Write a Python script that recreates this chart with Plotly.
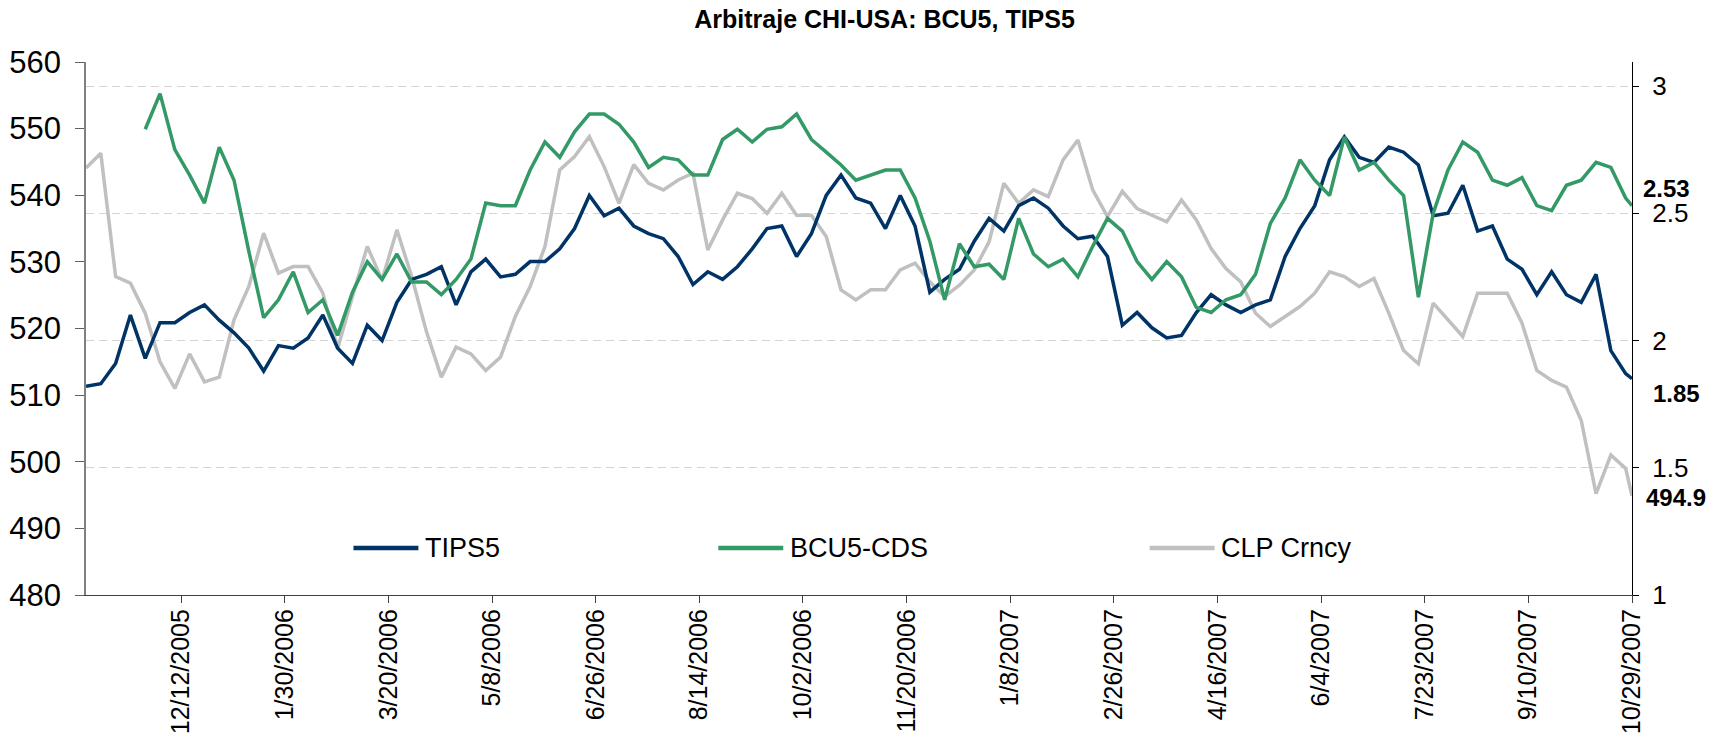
import plotly.graph_objects as go

# weekly readings (Fridays) plus the last day
dates = [
    "2005-10-28", "2005-11-04", "2005-11-11", "2005-11-18", "2005-11-25", "2005-12-02",
    "2005-12-09", "2005-12-16", "2005-12-23", "2005-12-30", "2006-01-06", "2006-01-13",
    "2006-01-20", "2006-01-27", "2006-02-03", "2006-02-10", "2006-02-17", "2006-02-24",
    "2006-03-03", "2006-03-10", "2006-03-17", "2006-03-24", "2006-03-31", "2006-04-07",
    "2006-04-14", "2006-04-21", "2006-04-28", "2006-05-05", "2006-05-12", "2006-05-19",
    "2006-05-26", "2006-06-02", "2006-06-09", "2006-06-16", "2006-06-23", "2006-06-30",
    "2006-07-07", "2006-07-14", "2006-07-21", "2006-07-28", "2006-08-04", "2006-08-11",
    "2006-08-18", "2006-08-25", "2006-09-01", "2006-09-08", "2006-09-15", "2006-09-22",
    "2006-09-29", "2006-10-06", "2006-10-13", "2006-10-20", "2006-10-27", "2006-11-03",
    "2006-11-10", "2006-11-17", "2006-11-24", "2006-12-01", "2006-12-08", "2006-12-15",
    "2006-12-22", "2006-12-29", "2007-01-05", "2007-01-12", "2007-01-19", "2007-01-26",
    "2007-02-02", "2007-02-09", "2007-02-16", "2007-02-23", "2007-03-02", "2007-03-09",
    "2007-03-16", "2007-03-23", "2007-03-30", "2007-04-06", "2007-04-13", "2007-04-20",
    "2007-04-27", "2007-05-04", "2007-05-11", "2007-05-18", "2007-05-25", "2007-06-01",
    "2007-06-08", "2007-06-15", "2007-06-22", "2007-06-29", "2007-07-06", "2007-07-13",
    "2007-07-20", "2007-07-27", "2007-08-03", "2007-08-10", "2007-08-17", "2007-08-24",
    "2007-08-31", "2007-09-07", "2007-09-14", "2007-09-21", "2007-09-28", "2007-10-05",
    "2007-10-12", "2007-10-19", "2007-10-26", "2007-10-29",
]

tips5 = [
    1.82, 1.83, 1.91, 2.10, 1.93, 2.07, 2.07, 2.11, 2.14, 2.08, 2.03, 1.97,
    1.88, 1.98, 1.97, 2.01, 2.10, 1.97, 1.91, 2.06, 2.00, 2.15, 2.24, 2.26,
    2.29, 2.14, 2.27, 2.32, 2.25, 2.26, 2.31, 2.31, 2.36, 2.44, 2.57, 2.49,
    2.52, 2.45, 2.42, 2.40, 2.33, 2.22, 2.27, 2.24, 2.29, 2.36, 2.44, 2.45,
    2.33, 2.42, 2.57, 2.65, 2.56, 2.54, 2.44, 2.57, 2.45, 2.19, 2.24, 2.28,
    2.39, 2.48, 2.43, 2.53, 2.56, 2.52, 2.45, 2.40, 2.41, 2.33, 2.06, 2.11,
    2.05, 2.01, 2.02, 2.11, 2.18, 2.14, 2.11, 2.14, 2.16, 2.33, 2.44, 2.53,
    2.71, 2.80, 2.72, 2.70, 2.76, 2.74, 2.69, 2.49, 2.50, 2.61, 2.43, 2.45,
    2.32, 2.28, 2.18, 2.27, 2.18, 2.15, 2.26, 1.96, 1.87, 1.85,
]

bcu5_cds = [
    None, None, None, None, 2.83, 2.97, 2.75, 2.65, 2.54, 2.76, 2.63, 2.35,
    2.09, 2.16, 2.27, 2.11, 2.16, 2.02, 2.19, 2.31, 2.24, 2.34, 2.23, 2.23,
    2.18, 2.24, 2.32, 2.54, 2.53, 2.53, 2.67, 2.78, 2.72, 2.82, 2.89, 2.89,
    2.85, 2.78, 2.68, 2.72, 2.71, 2.65, 2.65, 2.79, 2.83, 2.78, 2.83, 2.84,
    2.89, 2.79, 2.74, 2.69, 2.63, 2.65, 2.67, 2.67, 2.56, 2.39, 2.16, 2.38,
    2.29, 2.30, 2.24, 2.48, 2.34, 2.29, 2.32, 2.25, 2.37, 2.48, 2.43, 2.31,
    2.24, 2.31, 2.25, 2.13, 2.11, 2.16, 2.18, 2.26, 2.46, 2.56, 2.71, 2.63,
    2.57, 2.80, 2.67, 2.70, 2.63, 2.57, 2.17, 2.50, 2.67, 2.78, 2.74, 2.63,
    2.61, 2.64, 2.53, 2.51, 2.61, 2.63, 2.70, 2.68, 2.56, 2.53,
]

clp_crncy = [
    544.1, 546.3, 527.8, 526.8, 522.3, 515.0, 511.0, 516.2, 512.0, 512.7, 521.3, 526.3,
    534.3, 528.3, 529.3, 529.3, 525.3, 517.0, 524.8, 532.3, 527.3, 534.8, 527.8, 519.5,
    512.7, 517.2, 516.2, 513.7, 515.7, 521.8, 526.3, 532.3, 543.8, 545.8, 548.8, 544.3,
    538.8, 544.6, 541.8, 540.8, 542.3, 543.3, 531.8, 536.3, 540.3, 539.5, 537.3, 540.3,
    537.0, 537.0, 533.8, 525.8, 524.3, 525.8, 525.8, 528.8, 529.8, 527.0, 524.8, 526.5,
    528.8, 533.0, 541.8, 538.8, 540.8, 539.8, 545.3, 548.3, 540.8, 536.8, 540.6, 538.0,
    537.0, 536.0, 539.3, 536.3, 532.0, 529.0, 527.0, 522.3, 520.3, 521.8, 523.3, 525.3,
    528.5, 527.8, 526.3, 527.5, 522.3, 516.7, 514.7, 523.8, 521.3, 518.8, 525.3, 525.3,
    525.3, 520.8, 513.7, 512.2, 511.2, 506.2, 495.2, 501.0, 499.0, 494.9,
]

x_tick_dates = [
    "2005-12-12", "2006-01-30", "2006-03-20", "2006-05-08", "2006-06-26",
    "2006-08-14", "2006-10-02", "2006-11-20", "2007-01-08", "2007-02-26",
    "2007-04-16", "2007-06-04", "2007-07-23", "2007-09-10", "2007-10-29",
]
x_tick_labels = [
    "12/12/2005", "1/30/2006", "3/20/2006", "5/8/2006", "6/26/2006",
    "8/14/2006", "10/2/2006", "11/20/2006", "1/8/2007", "2/26/2007",
    "4/16/2007", "6/4/2007", "7/23/2007", "9/10/2007", "10/29/2007",
]
left_ticks = [480, 490, 500, 510, 520, 530, 540, 550, 560]
right_ticks = [1, 1.5, 2, 2.5, 3]
right_tick_labels = ["1", "1.5", "2", "2.5", "3"]

NAVY = "#003366"
GREEN = "#339966"
GREY = "#c0c0c0"
FONT = "Liberation Sans, Arial, sans-serif"

fig = go.Figure()

fig.add_trace(go.Scatter(x=dates, y=clp_crncy, name="CLP Crncy", mode="lines",
                         line=dict(color=GREY, width=3.5), yaxis="y"))
fig.add_trace(go.Scatter(x=dates, y=tips5, name="TIPS5", mode="lines",
                         line=dict(color=NAVY, width=3.5), yaxis="y2"))
fig.add_trace(go.Scatter(x=dates, y=bcu5_cds, name="BCU5-CDS", mode="lines",
                         line=dict(color=GREEN, width=3.5), yaxis="y2"))

# hand-made legend, long line samples like the original
legend_items = [("TIPS5", NAVY, 0.173), ("BCU5-CDS", GREEN, 0.409), ("CLP Crncy", GREY, 0.688)]
legend_y = 0.088
for label, color, x0 in legend_items:
    fig.add_shape(type="line", xref="paper", yref="paper", x0=x0, x1=x0 + 0.042,
                  y0=legend_y, y1=legend_y, line=dict(color=color, width=4.5))
    fig.add_annotation(text=label, xref="paper", yref="paper", x=x0 + 0.045, y=legend_y,
                       xanchor="left", yanchor="middle", showarrow=False,
                       font=dict(size=27, color="black", family=FONT))

# last values printed at the right edge
end_labels = [
    (f"{bcu5_cds[-1]:.2f}", "y2", bcu5_cds[-1], 17, 1.0055),
    (f"{tips5[-1]:.2f}", "y2", tips5[-1], -15, 1.012),
    (f"{clp_crncy[-1]:.1f}", "y", clp_crncy[-1], -2, 1.008),
]
for text, yref, yval, shift, xpos in end_labels:
    fig.add_annotation(text=f"<b>{text}</b>", xref="paper", yref=yref, x=xpos, y=yval,
                       yshift=shift, xanchor="left", yanchor="middle", showarrow=False,
                       font=dict(size=24, color="black", family=FONT))

fig.update_layout(
    width=1726, height=733,
    margin=dict(l=86, r=94, t=62, b=138, autoexpand=False),
    paper_bgcolor="white", plot_bgcolor="white",
    showlegend=False,
    font=dict(family=FONT, color="black"),
    title=dict(text="<b>Arbitraje CHI-USA: BCU5, TIPS5</b>", x=0.5125, xanchor="center",
               y=1 - 19 / 733, yanchor="middle", yref="container",
               font=dict(size=25, color="black", family=FONT)),
    xaxis=dict(type="date", range=["2005-10-28", "2007-10-29"], automargin=False,
               tickvals=x_tick_dates, ticktext=x_tick_labels, tickangle=-90,
               ticks="outside", ticklen=7, tickcolor="#404040", tickwidth=1.3,
               showline=True, linecolor="#404040", linewidth=1.3,
               showgrid=False, zeroline=False, ticklabelstandoff=-4,
               tickfont=dict(size=25, color="black")),
    yaxis=dict(range=[480, 560], tickvals=left_ticks, ticks="outside", ticklen=9,
               automargin=False,
               tickcolor="#606060", tickwidth=1.3, showline=True, linecolor="#808080",
               linewidth=1.5, showgrid=False, zeroline=False, ticklabelstandoff=8,
               tickfont=dict(size=31, color="black")),
    yaxis2=dict(range=[1, 3.0944], tickvals=right_ticks, ticktext=right_tick_labels,
                overlaying="y", side="right", anchor="x", automargin=False,
                ticks="outside", ticklen=6, tickcolor="black", tickwidth=1.3,
                showline=True, linecolor="black", linewidth=1.3,
                showgrid=True, gridcolor="#d4d4d4", gridwidth=1, griddash="8px,5px",
                zeroline=False, ticklabelstandoff=8,
                tickfont=dict(size=26, color="black")),
    yaxis3=dict(range=[480, 560], tickvals=left_ticks, overlaying="y", side="left",
                anchor="x", ticks="inside", ticklen=8, tickcolor="#606060", tickwidth=1.3,
                automargin=False,
                showticklabels=False, showline=False, showgrid=False, zeroline=False),
)

# the page's default body margin would shift the chart by 8 px
fig.write_html("out.html", config={"displayModeBar": False},
               post_script="document.body.style.margin='0';")
